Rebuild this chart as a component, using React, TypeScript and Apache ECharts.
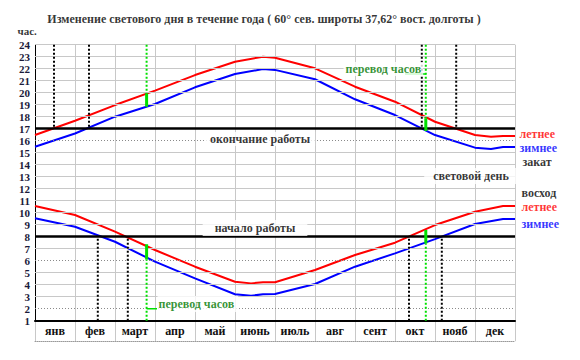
import React, { useEffect, useRef } from "react";
import * as echarts from "echarts";

// ---- data ----
const months = ["янв", "фев", "март", "апр", "май", "июнь", "июль", "авг", "сент", "окт", "нояб", "дек"];

// positions in months from 1 Jan (0) to 31 Dec (12)
const sunsetPos = [0, 1, 2, 3, 4, 5, 5.7, 6, 7, 8, 9, 10, 11, 11.4, 11.7, 12];
const sunsetSummer = [16.47, 17.66, 18.97, 20.17, 21.47, 22.58, 23.0, 22.92, 22.03, 20.5, 19.25, 17.58, 16.47, 16.33, 16.4, 16.4];
const sunsetWinter = [15.5, 16.6, 18.0, 19.06, 20.45, 21.56, 21.97, 21.9, 21.12, 19.45, 18.14, 16.47, 15.42, 15.31, 15.47, 15.47];

const sunrisePos = [0, 1, 2, 3, 4, 5, 5.4, 5.7, 6, 7, 8, 9, 10, 11, 11.7, 12];
const sunriseSummer = [10.56, 9.81, 8.42, 6.89, 5.5, 4.25, 4.11, 4.2, 4.2, 5.22, 6.47, 7.5, 8.97, 10.08, 10.56, 10.56];
const sunriseWinter = [9.53, 8.83, 7.58, 5.92, 4.53, 3.2, 3.08, 3.2, 3.22, 4.06, 5.5, 6.61, 7.8, 9.06, 9.47, 9.47];

const workEnd = 17;
const workStart = 8;
const dottedHours = [16, 6, 2];

const workEndCross = [0.475, 1.35, 9.67, 10.53];
const workStartCross = [1.57, 2.32, 9.35, 10.17];

const dstPos = [2.79, 9.77];
const dstSunsetSummer = [19.95, 17.87];
const dstSunsetWinter = [18.83, 16.8];
const dstSunriseSummer = [7.37, 8.56];
const dstSunriseWinter = [6.11, 7.44];

const calloutUpper = [[9.25, 21.55], [9.77, 21.55]];
const calloutLower = [[2.79, 2], [3.05, 2]];

const hourMin = 1;
const hourMax = 24;

const titleText = "Изменение светового дня в течение года ( 60° сев. широты 37,62° вост. долготы )";

const zip = (xs: number[], ys: number[]) => xs.map((x, i) => [x, ys[i]]);

const SERIF = "Times New Roman";
const GREEN = "#00e000";
const GREEN_TEXT = "#007800";

// annotation texts anchored in data coordinates (month, hour)
const annotations: any[] = [
  { name: titleText, value: [5.725, 26.14], color: "#000", center: true },
  { name: "час.", value: [-0.45, 25.14], color: "#000", size: 11 },
  { name: "окончание работы", value: [5.625, 16.14], color: "#000", center: true, bg: true, padding: [1, 5] },
  { name: "начало работы", value: [5.5, 8.725], color: "#000", center: true, bg: true, padding: [2, 12] },
  { name: "световой день", value: [10.9, 13.06], color: "#000", center: true, bg: true, padding: [2, 9] },
  { name: "перевод часов", value: [7.7, 21.975], color: GREEN_TEXT, bg: true, padding: [1, 2] },
  { name: "перевод часов", value: [3.05, 2.39], color: GREEN_TEXT, bg: true, padding: [2, 4, 2, 1] },
  { name: "летнее", value: [12.1, 16.56], color: "#ff0000" },
  { name: "зимнее", value: [12.1, 15.39], color: "#0000ff" },
  { name: "закат", value: [12.175, 14.225], color: "#000" },
  { name: "восход", value: [12.15, 11.64], color: "#000" },
  { name: "летнее", value: [12.15, 10.48], color: "#ff0000" },
  { name: "зимнее", value: [12.15, 9.06], color: "#0000ff" },
];

export default function App() {
  const ref = useRef<HTMLDivElement>(null);

  useEffect(() => {
    if (!ref.current) return;
    const chart = echarts.init(ref.current, undefined, { renderer: "svg" });

    const gridHours: number[] = [];
    for (let h = hourMin + 1; h <= hourMax; h++) gridHours.push(h);

    const vline = (x: number, y1: number, y2: number, color: string, width: number, type: any, z: number) => ({
      type: "line",
      data: [[x, y1], [x, y2]],
      symbol: "none",
      silent: true,
      z,
      lineStyle: { color, width, type, cap: "butt" },
    });

    const series: any[] = [
      {
        type: "line",
        data: [[0, 1]],
        symbol: "none",
        z: 1,
        silent: true,
        lineStyle: { opacity: 0 },
        markLine: {
          silent: true,
          symbol: "none",
          label: { show: false },
          data: gridHours.map((h) => ({
            yAxis: h,
            lineStyle: dottedHours.includes(h)
              ? { color: "#8a8a8a", width: 1, type: [1, 2] }
              : { color: "#c8c8c8", width: 1, type: "solid" },
          })),
        },
      },
      {
        type: "line",
        data: [[0, 1]],
        symbol: "none",
        z: 3,
        silent: true,
        lineStyle: { opacity: 0 },
        markLine: {
          silent: true,
          symbol: "none",
          label: { show: false },
          data: [workEnd, workStart].map((h) => ({
            yAxis: h,
            lineStyle: { color: "#000", width: 2.5, type: "solid" },
          })),
        },
      },
      { type: "line", data: zip(sunsetPos, sunsetSummer), symbol: "none", z: 4, lineStyle: { color: "#ff0000", width: 2 } },
      { type: "line", data: zip(sunsetPos, sunsetWinter), symbol: "none", z: 4, lineStyle: { color: "#0000ff", width: 2 } },
      { type: "line", data: zip(sunrisePos, sunriseSummer), symbol: "none", z: 4, lineStyle: { color: "#ff0000", width: 2 } },
      { type: "line", data: zip(sunrisePos, sunriseWinter), symbol: "none", z: 4, lineStyle: { color: "#0000ff", width: 2 } },
    ];

    workEndCross.forEach((x) => series.push(vline(x, hourMax, workEnd, "#000", 2, [2, 2], 5)));
    workStartCross.forEach((x) => series.push(vline(x, hourMin, workStart, "#000", 2, [2, 2], 5)));

    dstPos.forEach((x, i) => {
      const topS = Math.max(dstSunsetSummer[i], dstSunsetWinter[i]);
      const botS = Math.min(dstSunsetSummer[i], dstSunsetWinter[i]);
      series.push(vline(x, hourMax, topS, GREEN, 2, [2, 2], 5));
      series.push(vline(x, topS, botS, GREEN, 3, "solid", 6));
      const topR = Math.max(dstSunriseSummer[i], dstSunriseWinter[i]);
      const botR = Math.min(dstSunriseSummer[i], dstSunriseWinter[i]);
      series.push(vline(x, hourMin, botR, GREEN, 2, [2, 2], 5));
      series.push(vline(x, botR, topR, GREEN, 3, "solid", 6));
    });

    [calloutUpper, calloutLower].forEach((pts) =>
      series.push({ type: "line", data: pts, symbol: "none", silent: true, z: 6, lineStyle: { color: GREEN, width: 1.5 } })
    );

    series.push({
      type: "scatter",
      clip: false,
      silent: true,
      z: 20,
      symbolSize: 1,
      itemStyle: { color: "rgba(0,0,0,0)" },
      label: {
        show: true,
        formatter: "{b}",
        fontFamily: SERIF,
        fontWeight: "bold",
        fontSize: 12,
      },
      data: annotations.map((a) => ({
        name: a.name,
        value: a.value,
        label: {
          position: a.center ? "inside" : "right",
          distance: 0,
          color: a.color,
          fontSize: a.size || 12,
          backgroundColor: a.bg ? "#ffffff" : "transparent",
          padding: a.padding || 0,
        },
      })),
    });

    chart.setOption({
      animation: false,
      backgroundColor: "#ffffff",
      grid: [
        { left: 35, top: 44.7, width: 480, height: 276 },
        { left: 35, top: 320.7, width: 480, height: 20.5 },
      ],
      xAxis: [
        {
          type: "value", gridIndex: 0, min: 0, max: 12, interval: 1,
          axisLabel: { show: false }, axisTick: { show: false },
          axisLine: { show: true, onZero: false, lineStyle: { color: "#000", width: 2 } },
          splitLine: { show: true, lineStyle: { color: "#c8c8c8", width: 1 } },
        },
        {
          type: "category", gridIndex: 1, data: months, boundaryGap: true, position: "bottom",
          axisTick: { show: false },
          axisLine: { show: true, lineStyle: { color: "#9a9a9a", width: 1, type: [1, 1] } },
          splitLine: { show: true, interval: 0, lineStyle: { color: "#c8c8c8", width: 1 } },
          axisLabel: { inside: true, interval: 0, margin: 4, color: "#111", fontFamily: SERIF, fontWeight: "bold", fontSize: 12 },
        },
      ],
      yAxis: [
        {
          type: "value", gridIndex: 0, min: hourMin, max: hourMax, interval: 1,
          axisLine: { show: true, lineStyle: { color: "#000", width: 1 } },
          axisTick: { show: false }, splitLine: { show: false },
          axisLabel: { margin: 5, color: "#1a1a3a", fontFamily: SERIF, fontWeight: "bold", fontSize: 11 },
        },
        { type: "value", gridIndex: 1, show: false, min: 0, max: 1 },
      ],
      series,
    });

    return () => chart.dispose();
  }, []);

  return <div ref={ref} style={{ position: "fixed", left: 0, top: 0, width: 580, height: 360, background: "#fff" }} />;
}
